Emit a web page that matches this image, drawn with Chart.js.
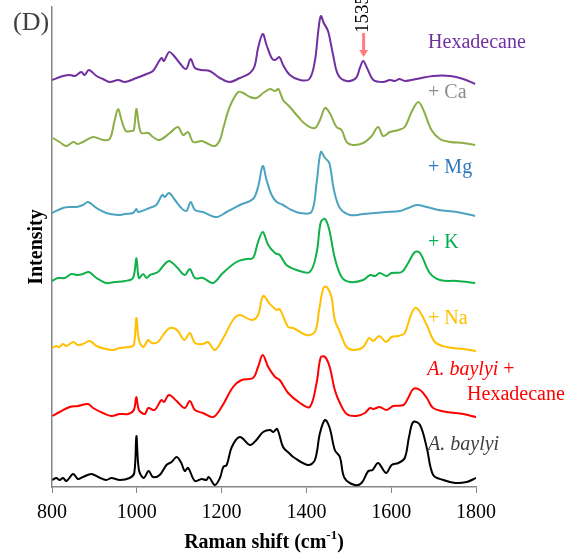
<!DOCTYPE html>
<html>
<head>
<meta charset="utf-8">
<title>Raman spectra</title>
<script src="https://cdn.jsdelivr.net/npm/chart.js@4/dist/chart.umd.min.js"></script>
<style>
  html, body { margin: 0; padding: 0; background: #ffffff; }
  #wrap { width: 578px; height: 559px; }
</style>
</head>
<body>
<div id="wrap"><canvas id="c" width="578" height="559"></canvas></div>
<script>
// Raman shift ticks (cm-1)
const xTicks = [800, 1000, 1200, 1400, 1600, 1800];

// Spectra, stacked (arbitrary intensity units, offsets included)
const hexWn = [800,826,842,854,869,877,887,905,920,936,956,972,999,1023,1038,1058,1064,1076,1086,1101,1116,1127,1137,1153,1172,1196,1219,1243,1267,1278,1286,1297,1306,1318,1326,1336,1345,1361,1385,1407,1420,1428,1434,1441,1451,1463,1475,1495,1517,1526,1534,1543,1558,1581,1597,1609,1619,1632,1660,1699,1739,1770,1798];
const hexI  = [407,411,412,411,415,412,417,411,408,405,407,405,409,413,416,429,426,435,432,424,418,428,419,417,416,409,405,409,414,421,439,453,442,429,427,430,422,412,407,408,426,456,471,464,456,432,412,406,409,419,426,419,407,405,407,406,408,406,408,411,411,408,403];

const caWn = [802,818,834,850,861,873,897,920,936,948,956,964,974,987,993,999,1005,1011,1027,1038,1054,1078,1097,1109,1121,1133,1153,1164,1184,1196,1204,1219,1239,1251,1267,1282,1298,1314,1326,1334,1345,1361,1381,1400,1420,1432,1444,1455,1471,1483,1495,1510,1534,1554,1569,1581,1597,1617,1632,1648,1664,1676,1695,1715,1739,1770,1798];
const caI  = [349,345,341,345,343,345,350,347,348,367,378,367,356,356,357,378,362,354,354,350,347,354,360,352,355,345,346,344,341,347,359,380,395,394,390,389,394,398,396,398,387,380,370,362,359,367,379,374,360,357,345,342,344,351,360,351,355,357,360,375,385,377,357,348,345,344,342];

const mgWn = [800,826,842,858,873,885,905,928,956,972,991,999,1003,1030,1046,1060,1066,1076,1090,1105,1117,1127,1137,1156,1188,1212,1243,1274,1286,1297,1306,1318,1330,1345,1365,1385,1412,1424,1434,1444,1454,1465,1479,1503,1534,1562,1589,1621,1640,1660,1684,1711,1755,1798];
const mgI  = [274,279,280,280,282,285,279,274,272,273,274,278,275,279,282,292,290,294,287,279,276,285,277,275,270,275,282,288,300,321,307,292,285,282,277,274,275,304,335,329,324,297,279,272,273,274,275,276,279,282,280,277,275,271];

const kWn = [800,814,830,846,861,873,887,905,928,948,972,991,999,1005,1015,1023,1031,1050,1062,1076,1094,1113,1125,1137,1156,1180,1203,1235,1259,1274,1286,1297,1310,1326,1337,1353,1377,1408,1424,1434,1444,1454,1467,1483,1503,1534,1550,1562,1573,1589,1601,1625,1640,1656,1668,1691,1715,1755,1798];
const kI  = [206,209,209,213,212,213,215,209,204,205,206,209,229,209,213,209,212,215,221,226,220,212,218,209,209,204,214,225,228,229,245,255,242,234,232,222,217,215,234,265,268,257,229,210,205,207,212,211,214,211,214,215,224,235,234,214,207,206,204];

const naWn = [801,810,818,826,834,850,861,873,889,905,928,944,960,983,993,999,1005,1015,1027,1035,1050,1062,1074,1086,1097,1112,1125,1137,1156,1168,1184,1204,1227,1243,1271,1286,1298,1314,1330,1337,1357,1369,1400,1420,1430,1440,1448,1459,1467,1479,1495,1514,1534,1548,1558,1572,1588,1601,1617,1632,1644,1656,1668,1684,1703,1731,1770,1800];
const naI  = [139,141,140,143,141,145,142,143,146,141,138,137,139,140,142,169,147,140,147,144,145,152,158,159,156,147,154,144,143,145,137,149,167,172,167,172,191,183,177,178,160,159,152,155,177,199,200,190,167,155,140,137,140,149,146,151,145,150,151,154,169,179,175,162,145,140,138,136];

const abHexWn = [801,818,842,861,885,897,920,940,960,979,993,999,1005,1019,1027,1042,1058,1064,1076,1094,1113,1125,1137,1156,1180,1200,1227,1247,1274,1286,1297,1310,1326,1337,1357,1385,1408,1424,1434,1444,1455,1467,1479,1495,1518,1538,1550,1558,1573,1589,1605,1629,1640,1652,1668,1684,1699,1731,1770,1800];
const abHexI  = [71,75,80,81,83,79,74,71,73,73,77,90,77,73,79,77,87,85,92,86,79,86,77,74,70,80,100,107,109,120,132,120,110,107,94,84,80,104,130,130,120,97,84,73,71,74,79,78,80,77,81,82,89,98,97,89,79,75,73,70];

const abWn = [801,810,818,826,834,850,861,873,893,909,928,940,960,983,994,999,1005,1016,1028,1038,1054,1070,1082,1094,1105,1113,1121,1137,1153,1164,1170,1184,1196,1204,1212,1224,1243,1267,1282,1298,1314,1322,1331,1345,1359,1369,1404,1420,1432,1444,1455,1467,1479,1490,1514,1530,1546,1556,1569,1588,1601,1617,1632,1642,1652,1668,1684,1699,1723,1751,1778,1800];
const abI  = [7,9,7,9,6,13,8,10,13,10,7,9,7,9,14,51,17,9,16,10,12,22,25,30,24,16,19,6,8,7,10,2,9,20,22,40,50,42,47,55,57,55,58,40,34,30,22,27,54,67,59,37,30,9,2,4,16,17,24,14,22,24,29,50,65,62,39,12,7,4,5,9];

// Marked band
const markedBand = 1535;

const SERIF = '"Liberation Serif", "Times New Roman", serif';

function pts(wn, vals) { return wn.map((x, i) => ({ x: x, y: vals[i] })); }
function line(label, wn, vals, color) {
  return {
    label: label, data: pts(wn, vals), borderColor: color, borderWidth: 2,
    pointRadius: 0, fill: false, tension: 0.35
  };
}

// Series captions placed at right of each trace (anchored in data units)
const captions = [
  { parts: [['Hexadecane', '']], color: '#7030A0', wn: 1687, val: 444 },
  { parts: [['+ Ca', '']], color: '#8C8C8C', wn: 1687, val: 394 },
  { parts: [['+ Mg', '']], color: '#2E78C0', wn: 1687, val: 319 },
  { parts: [['+ K', '']], color: '#00B050', wn: 1687, val: 244 },
  { parts: [['+ Na', '']], color: '#FFC000', wn: 1687, val: 168 },
  { parts: [['A. baylyi', 'italic '], [' +', '']], color: '#FF0000', wn: 1685, val: 117 },
  { parts: [['Hexadecane', '']], color: '#FF0000', wn: 1779, val: 92 },
  { parts: [['A. baylyi', 'italic ']], color: '#404040', wn: 1687, val: 42 }
];

const decor = {
  id: 'decor',
  afterDraw(chart) {
    const ctx = chart.ctx;
    const xs = chart.scales.x, ys = chart.scales.y;
    const area = chart.chartArea;
    ctx.save();
    ctx.textBaseline = 'middle';

    // panel letter
    ctx.fillStyle = '#404040';
    ctx.font = '26px ' + SERIF;
    ctx.textAlign = 'left';
    ctx.fillText('(D)', 13, 23);

    // captions
    captions.forEach(c => {
      let x = xs.getPixelForValue(c.wn);
      const y = ys.getPixelForValue(c.val);
      ctx.fillStyle = c.color;
      c.parts.forEach(p => {
        ctx.font = p[1] + '20px ' + SERIF;
        ctx.fillText(p[0], x, y);
        x += ctx.measureText(p[0]).width;
      });
    });

    // arrow marking the 1535 band
    const ax = xs.getPixelForValue(markedBand);
    ctx.fillStyle = '#FF7C80';
    ctx.fillRect(ax - 1.5, 33, 3, 18);
    ctx.beginPath();
    ctx.moveTo(ax - 4.5, 50);
    ctx.lineTo(ax + 4.5, 50);
    ctx.lineTo(ax, 57);
    ctx.closePath();
    ctx.fill();

    ctx.save();
    ctx.translate(ax - 1, 14);
    ctx.rotate(-Math.PI / 2);
    ctx.fillStyle = '#000000';
    ctx.font = '19px ' + SERIF;
    ctx.textAlign = 'center';
    ctx.fillText(String(markedBand), 0, 0);
    ctx.restore();

    // x axis title with superscript
    ctx.fillStyle = '#000000';
    const main = 'Raman shift (cm';
    const sup = '-1';
    const tail = ')';
    ctx.font = 'bold 20px ' + SERIF;
    const wMain = ctx.measureText(main).width;
    const wTail = ctx.measureText(tail).width;
    ctx.font = 'bold 13px ' + SERIF;
    const wSup = ctx.measureText(sup).width;
    const total = wMain + wSup + wTail;
    let tx = (area.left + area.right) / 2 - total / 2;
    const ty = 543;
    ctx.textAlign = 'left';
    ctx.font = 'bold 20px ' + SERIF;
    ctx.fillText(main, tx, ty);
    tx += wMain;
    ctx.font = 'bold 13px ' + SERIF;
    ctx.fillText(sup, tx, ty - 7);
    tx += wSup;
    ctx.font = 'bold 20px ' + SERIF;
    ctx.fillText(tail, tx, ty);

    // y axis title
    ctx.save();
    ctx.translate(37, 247);
    ctx.rotate(-Math.PI / 2);
    ctx.textAlign = 'center';
    ctx.font = 'bold 20px ' + SERIF;
    ctx.fillText('Intensity', 0, 0);
    ctx.restore();

    ctx.restore();
  }
};

new Chart(document.getElementById('c'), {
  type: 'line',
  data: {
    datasets: [
      line('Hexadecane', hexWn, hexI, '#7030A0'),
      line('+ Ca', caWn, caI, '#8BAE46'),
      line('+ Mg', mgWn, mgI, '#4BA3C0'),
      line('+ K', kWn, kI, '#12B04A'),
      line('+ Na', naWn, naI, '#FFC000'),
      line('A. baylyi + Hexadecane', abHexWn, abHexI, '#FF0000'),
      line('A. baylyi', abWn, abI, '#000000')
    ]
  },
  options: {
    responsive: false,
    animation: false,
    devicePixelRatio: 1,
    layout: { padding: { top: 7, right: 102, left: 0, bottom: 0 } },
    plugins: { legend: { display: false }, tooltip: { enabled: false } },
    scales: {
      x: {
        type: 'linear', min: 800, max: 1800,
        afterFit(s) { s.height = 72; },
        afterBuildTicks(s) { s.ticks = xTicks.map(v => ({ value: v })); },
        grid: { display: true, drawOnChartArea: false, drawTicks: true, tickLength: 6, color: '#868686' },
        border: { display: true, color: '#868686', width: 1.5 },
        ticks: {
          color: '#000000', font: { family: SERIF, size: 20 }, padding: 8,
          maxRotation: 0, autoSkip: false,
          callback: v => String(v)
        }
      },
      y: {
        min: 0, max: 480,
        afterFit(s) { s.width = 52; },
        grid: { display: false },
        border: { display: true, color: '#868686', width: 1.5 },
        ticks: { display: false }
      }
    }
  },
  plugins: [decor]
});
</script>
</body>
</html>
